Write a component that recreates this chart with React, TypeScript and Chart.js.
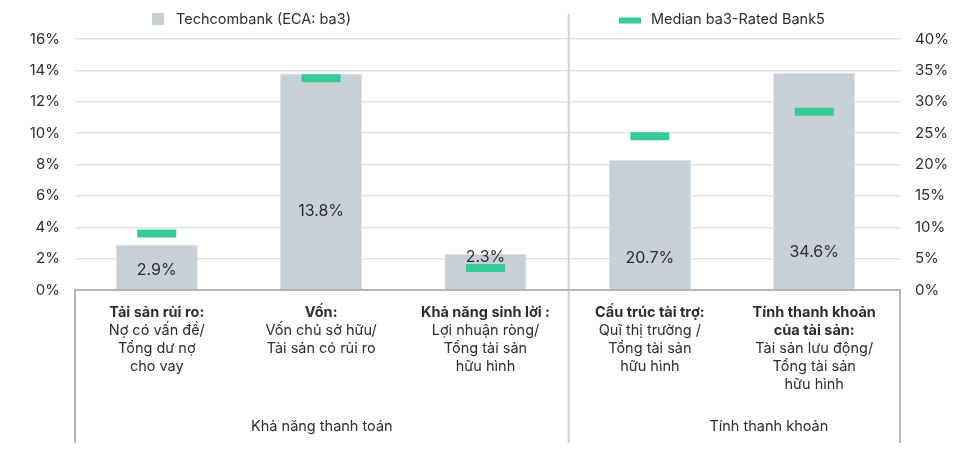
import React, { useEffect, useRef } from "react";
import { Chart, registerables } from "chart.js";

Chart.register(...registerables);

// ---- data ----
const categories = ["Tải sản rủi ro", "Vốn", "Khả năng sinh lời", "Cấu trúc tài trợ", "Tính thanh khoản của tài sản"];
const categoryTitles = [["Tải sản rủi ro:"], ["Vốn:"], ["Khả năng sinh lời :"], ["Cấu trúc tài trợ:"], ["Tính thanh khoản", "của tài sản:"]];
const categoryDetails = [
  ["Nợ có vấn đề/", "Tổng dư nợ", "cho vay"],
  ["Vốn chủ sở hữu/", "Tài sản có rủi ro"],
  ["Lợi nhuận ròng/", "Tổng tài sản", "hữu hình"],
  ["Quĩ thị trường /", "Tổng tài sản", "hữu hình"],
  ["Tài sản lưu động/", "Tổng tài sản", "hữu hình"],
];
const groupLabels = ["Khả năng thanh toán", "Tính thanh khoản"];
const techcombankLeft = [2.9, 13.8, 2.3, null, null];
const techcombankRight = [null, null, null, 20.7, 34.6];
const medianLeft = [3.6, 13.5, 1.4, null, null];
const medianRight = [null, null, null, 24.5, 28.4];
const valueLabels = ["2.9%", "13.8%", "2.3%", "20.7%", "34.6%"];
const seriesNames = ["Techcombank (ECA: ba3)", "Median ba3-Rated Bank5"];
const leftAxis = { min: 0, max: 16, step: 2 };
const rightAxis = { min: 0, max: 40, step: 5 };

// ---- styles ----
const BAR = "#c7cfd7";
const GREEN = "#36cb96";
const GRID = "#dfe3e9";
const AXIS = "#b4b4b4";
const SEP = "#d2d2d2";
const TEXT = "#2e2e2e";
const FONT = "Inter, 'Noto Sans', sans-serif";
const labelLift = [20, 79, 33, 32, 38];
const xBandInset = { left: -0.4, right: 4.6 };

const overlay = {
  id: "overlay",
  afterLayout(chart: any) {
    const xs = chart.scales.x;
    const { left, right } = chart.chartArea;
    xs._startPixel = left + xBandInset.left;
    xs._endPixel = right - xBandInset.right;
    xs._length = xs._endPixel - xs._startPixel;
  },
  afterDatasetsDraw(chart: any) {
    const { ctx, chartArea } = chart;
    const xs = chart.scales.x;
    ctx.save();
    ctx.fillStyle = TEXT;
    ctx.font = `16px ${FONT}`;
    ctx.textAlign = "center";
    ctx.textBaseline = "middle";
    valueLabels.forEach((t, i) => {
      ctx.fillText(t, xs.getPixelForValue(i), chartArea.bottom - labelLift[i]);
    });
    ctx.restore();
  },
  afterDraw(chart: any) {
    const { ctx, chartArea } = chart;
    const xs = chart.scales.x;
    const L = chartArea.left, R = chartArea.right, B = chartArea.bottom;
    const bottomY = 443;
    ctx.save();
    // separator
    const sepX = (xs.getPixelForValue(2) + xs.getPixelForValue(3)) / 2 + 1;
    ctx.strokeStyle = SEP;
    ctx.lineWidth = 2;
    ctx.beginPath();
    ctx.moveTo(sepX, 14);
    ctx.lineTo(sepX, bottomY);
    ctx.stroke();
    // frame lines below axis
    ctx.strokeStyle = AXIS;
    ctx.beginPath();
    ctx.moveTo(L, B);
    ctx.lineTo(L, bottomY);
    ctx.moveTo(R - 1, B);
    ctx.lineTo(R - 1, bottomY);
    ctx.stroke();
    ctx.lineWidth = 2.2;
    ctx.beginPath();
    ctx.moveTo(L - 1, B);
    ctx.lineTo(R, B);
    ctx.stroke();

    // category labels
    ctx.fillStyle = TEXT;
    ctx.textAlign = "center";
    ctx.textBaseline = "middle";
    const lh = 18;
    categories.forEach((_, i) => {
      const cx = xs.getPixelForValue(i);
      let y = 312.5;
      ctx.font = `bold 14.5px ${FONT}`;
      categoryTitles[i].forEach((t) => {
        ctx.fillText(t, cx, y);
        y += lh;
      });
      ctx.font = `14.5px ${FONT}`;
      categoryDetails[i].forEach((t) => {
        ctx.fillText(t, cx, y);
        y += lh;
      });
    });
    // group labels
    ctx.font = `14.5px ${FONT}`;
    ctx.fillText(groupLabels[0], (L + sepX) / 2, 427);
    ctx.fillText(groupLabels[1], (sepX + chart.width - 10) / 2, 427);

    // legend
    ctx.textAlign = "left";
    ctx.font = `14.5px ${FONT}`;
    ctx.fillStyle = BAR;
    ctx.fillRect(152, 13, 12, 12);
    ctx.fillStyle = TEXT;
    ctx.fillText(seriesNames[0], 176, 20);
    ctx.fillStyle = GREEN;
    ctx.fillRect(619, 17.5, 22, 6);
    ctx.fillStyle = TEXT;
    ctx.fillText(seriesNames[1], 651, 20);
    ctx.restore();
  },
};

export default function App() {
  const ref = useRef<HTMLCanvasElement>(null);
  useEffect(() => {
    document.body.style.margin = "0";
    const canvas = ref.current!;
    const medianStyle = {
      showLine: false,
      pointStyle: "line",
      pointRadius: 19.5,
      pointHoverRadius: 19.5,
      pointBorderWidth: 8,
      pointBorderColor: GREEN,
      borderColor: GREEN,
      backgroundColor: GREEN,
      order: 0,
    };
    const barStyle = {
      backgroundColor: BAR,
      borderColor: "#dde2e7",
      borderWidth: 1,
      grouped: false,
      barPercentage: 0.5,
      categoryPercentage: 1,
      order: 1,
    };
    const chart = new Chart(canvas, {
      type: "bar",
      data: {
        labels: categories,
        datasets: [
          { type: "line", label: seriesNames[1], data: medianLeft, yAxisID: "y", ...medianStyle } as any,
          { type: "line", label: seriesNames[1] + " ", data: medianRight, yAxisID: "y1", ...medianStyle } as any,
          { label: seriesNames[0], data: techcombankLeft, yAxisID: "y", ...barStyle } as any,
          { label: seriesNames[0] + " ", data: techcombankRight, yAxisID: "y1", ...barStyle } as any,
        ],
      },
      options: {
        responsive: false,
        animation: false,
        layout: { padding: { top: 39, bottom: 159, left: 0, right: 0 } },
        plugins: { legend: { display: false }, tooltip: { enabled: false }, title: { display: false } },
        scales: {
          x: { display: false, offset: true },
          y: {
            position: "left",
            min: leftAxis.min,
            max: leftAxis.max,
            ticks: {
              stepSize: leftAxis.step,
              callback: (v: any) => v + "%",
              color: TEXT,
              font: { family: FONT, size: 15 },
              padding: 15,
            },
            grid: { color: GRID, lineWidth: 1.5, drawTicks: false },
            border: { display: false },
            afterFit: (s: any) => { s.width = 75; },
          },
          y1: {
            position: "right",
            min: rightAxis.min,
            max: rightAxis.max,
            ticks: {
              stepSize: rightAxis.step,
              callback: (v: any) => v + "%",
              color: TEXT,
              font: { family: FONT, size: 15 },
              padding: 14,
            },
            grid: { drawOnChartArea: false, drawTicks: false },
            border: { display: false },
            afterFit: (s: any) => { s.width = 78; },
          },
        },
      } as any,
      plugins: [overlay],
    });
    return () => chart.destroy();
  }, []);
  return (
    <div style={{ width: 979, height: 449, background: "#fff" }}>
      <canvas ref={ref} width={979} height={449} style={{ display: "block", width: 979, height: 449 }} />
    </div>
  );
}
